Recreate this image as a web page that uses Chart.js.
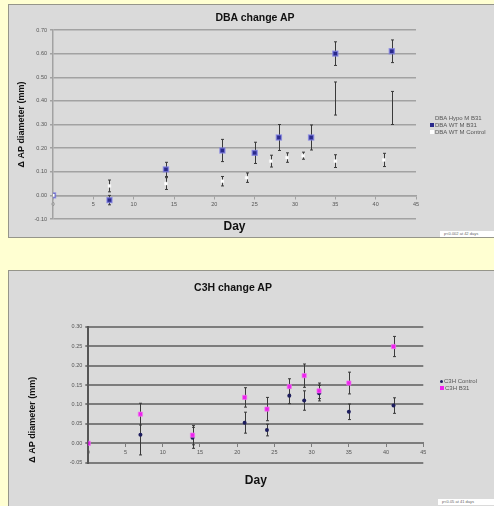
<!DOCTYPE html>
<html>
<head>
<meta charset="utf-8">
<script src="https://cdn.jsdelivr.net/npm/chart.js@4"></script>
<style>
    body { margin: 0; background: #ffffd2; width: 494px; height: 506px; overflow: hidden; position: relative; font-family: Arial, "Liberation Sans", sans-serif; }
    .panel { position: absolute; left: 8px; width: 490px; background: #dadada; border: 1px solid #95958a; }
    .panel canvas { position: absolute; left: 0; top: 0; }
    .title { position: absolute; font-weight: bold; font-size: 10.5px; color: #111; white-space: nowrap; transform: translate(-50%, -50%); }
    .legend { position: absolute; font-size: 6px; color: #555; white-space: nowrap; line-height: 7px; }
    .legend .mark { display: inline-block; width: 4px; height: 4px; margin-right: 1px; vertical-align: 0; }
    .pbox { position: absolute; background: #fff; font-size: 4px; color: #666; line-height: 6px; padding-left: 4px; white-space: nowrap; }
</style>
</head>
<body>

<div class="panel" style="top: 4px; height: 232px;"><canvas id="dba_chart" width="486" height="232"></canvas></div>
<div class="panel" style="top: 270px; height: 240px;"><canvas id="c3h_chart" width="486" height="235"></canvas></div>

<div class="title" style="left: 255px; top: 17px;">DBA change AP</div>
<div class="title" style="left: 233px; top: 287px;">C3H change AP</div>

<div class="legend" style="left: 430px; top: 115px;">
    <div><span class="mark"></span>DBA Hypo M B31</div>
    <div><span class="mark" style="background:#2a2a8c"></span>DBA WT M B31</div>
    <div><span class="mark" style="background:#fff"></span>DBA WT M Control</div>
</div>
<div class="legend" style="left: 440px; top: 378px;">
    <div><span class="mark" style="background:#1e1e5e; width:3px; height:3px; border-radius:2px"></span>C3H Control</div>
    <div><span class="mark" style="background:#ee22ee"></span>C3H B31</div>
</div>

<div class="pbox" style="left: 440px; top: 231px; width: 54px;">p&lt;0.002 at 42 days</div>
<div class="pbox" style="left: 438px; top: 499px; width: 56px;">p&lt;0.05 at 41 days</div>

<script>
// ---- DBA chart data ----
const dba_days = [0, 7, 14, 21, 25, 28, 32, 35, 42]
const dba_wt_b31 = [0, -0.02, 0.11, 0.19, 0.18, 0.245, 0.245, 0.60, 0.61]
const dba_wt_b31_err = [0, 0.02, 0.03, 0.047, 0.045, 0.055, 0.053, 0.05, 0.048]

const dba_hypo_days = [35, 42]
const dba_hypo_b31 = [0.41, 0.37]
const dba_hypo_b31_err = [0.07, 0.07]

const dba_ctrl_days = [0, 7, 14, 21, 24, 27, 29, 31, 35, 41]
const dba_wt_ctrl = [0, 0.04, 0.05, 0.06, 0.075, 0.145, 0.16, 0.168, 0.145, 0.15]
const dba_wt_ctrl_err = [0, 0.025, 0.025, 0.02, 0.02, 0.025, 0.02, 0.015, 0.027, 0.028]

// ---- C3H chart data ----
const c3h_days = [0, 7, 14, 21, 24, 27, 29, 31, 35, 41]
const c3h_ctrl = [0, 0.022, 0.014, 0.053, 0.034, 0.122, 0.11, 0.129, 0.081, 0.097]
const c3h_ctrl_err = [0, 0.052, 0.027, 0.027, 0.015, 0.02, 0.025, 0.02, 0.02, 0.02]
const c3h_b31 = [0, 0.075, 0.021, 0.118, 0.088, 0.146, 0.174, 0.135, 0.155, 0.249]
const c3h_b31_err = [0, 0.028, 0.025, 0.025, 0.03, 0.02, 0.03, 0.02, 0.028, 0.026]

const day_ticks = [0, 5, 10, 15, 20, 25, 30, 35, 40, 45]

function to_points(days, values) {
    return days.map((d, i) => ({x: d, y: values[i]}))
}

function fmt_tick(v) {
    if (Math.abs(v) < 1e-9) return '0.00'
    return Number(v).toFixed(2)
}

// error bars, drawn under the markers
const error_bars = {
    id: 'error_bars',
    beforeDatasetsDraw(chart) {
        const ctx = chart.ctx
        const xs = chart.scales.x
        const ys = chart.scales.y
        chart.data.datasets.forEach(ds => {
            if (!ds.errors) return
            ctx.save()
            ctx.strokeStyle = '#3a3a3a'
            ctx.lineWidth = 1
            ds.data.forEach((p, j) => {
                let e = ds.errors[j]
                if (!e) return
                let px = Math.round(xs.getPixelForValue(p.x)) + 0.5
                let top = ys.getPixelForValue(p.y + e)
                let bot = ys.getPixelForValue(p.y - e)
                ctx.beginPath()
                ctx.moveTo(px, top); ctx.lineTo(px, bot)
                ctx.moveTo(px - 1.5, top); ctx.lineTo(px + 1.5, top)
                ctx.moveTo(px - 1.5, bot); ctx.lineTo(px + 1.5, bot)
                ctx.stroke()
            })
            ctx.restore()
        })
    }
}

function make_chart(param = {}) {
    let grid_color = param.grid_color
    let grid_width = param.grid_width
    return new Chart(document.getElementById(param.id), {
        type: 'scatter',
        data: { datasets: param.datasets },
        options: {
            responsive: false,
            animation: false,
            layout: { padding: { top: param.top, right: param.right, left: 0, bottom: 0 } },
            plugins: { legend: { display: false }, tooltip: { enabled: false } },
            scales: {
                x: {
                    type: 'linear',
                    position: { y: 0 },
                    z: 1,
                    min: 0, max: 45,
                    afterBuildTicks: s => { s.ticks = day_ticks.map(v => ({value: v})) },
                    ticks: { autoSkip: false, font: { size: 5.5, family: 'Arial' }, color: '#555', padding: 3, maxRotation: 0 },
                    grid: { drawOnChartArea: false, drawTicks: true, tickLength: 3, color: grid_color },
                    border: { display: true, color: grid_color, width: grid_width }
                },
                xd: {
                    axis: 'x',
                    type: 'linear',
                    position: 'bottom',
                    min: 0, max: 45,
                    ticks: { display: false },
                    grid: { display: false },
                    border: { display: false },
                    title: { display: true, text: 'Day', color: '#111', font: { size: 12, weight: 'bold', family: 'Arial' }, padding: { top: 0, bottom: param.day_pad } },
                    afterFit: s => { s.height = param.day_height }
                },
                y: {
                    min: param.y_min, max: param.y_max,
                    ticks: { stepSize: param.y_step, font: { size: 5.5, family: 'Arial' }, color: '#555', padding: 3, callback: fmt_tick },
                    grid: { color: grid_color, lineWidth: grid_width, tickLength: 3 },
                    border: { display: true, color: param.axis_color, width: grid_width },
                    title: { display: true, text: 'Δ AP diameter (mm)', align: param.y_title_align, color: '#111', font: { size: 9, weight: 'bold', family: 'Arial' }, padding: { top: param.y_title_pad, bottom: 0 } },
                    afterFit: s => { s.width = param.y_width }
                }
            }
        },
        plugins: [error_bars]
    })
}

make_chart({
    id: 'dba_chart',
    top: 25, right: 79, y_width: 44, day_height: 18, day_pad: 2.8,
    y_min: -0.1, y_max: 0.7, y_step: 0.1, y_title_pad: 7.6, y_title_align: 'center',
    grid_color: '#a2a2a2', grid_width: 1.5, axis_color: '#a2a2a2',
    datasets: [
        { label: 'DBA Hypo M B31', data: to_points(dba_hypo_days, dba_hypo_b31), errors: dba_hypo_b31_err, pointRadius: 0 },
        { label: 'DBA WT M Control', data: to_points(dba_ctrl_days, dba_wt_ctrl), errors: dba_wt_ctrl_err, pointStyle: 'rect', pointRadius: 2, backgroundColor: '#ffffff', borderColor: '#f4f4f4', borderWidth: 0.5 },
        { label: 'DBA WT M B31', data: to_points(dba_days, dba_wt_b31), errors: dba_wt_b31_err, pointStyle: 'rect', pointRadius: 3.5, backgroundColor: '#2a2a8c', borderColor: 'rgba(130,130,230,0.7)', borderWidth: 1.5 }
    ]
})

make_chart({
    id: 'c3h_chart',
    top: 55.7, right: 71.7, y_width: 79.3, day_height: 43.3, day_pad: 18.1,
    y_min: -0.05, y_max: 0.3, y_step: 0.05, y_title_pad: 18.6, y_title_align: 'start',
    grid_color: '#7c7c7c', grid_width: 2, axis_color: '#555555',
    datasets: [
        { label: 'C3H B31', data: to_points(c3h_days, c3h_b31), errors: c3h_b31_err, pointStyle: 'rect', pointRadius: 3, backgroundColor: '#ee22ee', borderColor: 'rgba(240,120,240,0.7)', borderWidth: 1 },
        { label: 'C3H Control', data: to_points(c3h_days, c3h_ctrl), errors: c3h_ctrl_err, pointStyle: 'circle', pointRadius: 2, backgroundColor: '#1e1e5e', borderColor: '#1e1e5e', borderWidth: 0 }
    ]
})
</script>
</body>
</html>
